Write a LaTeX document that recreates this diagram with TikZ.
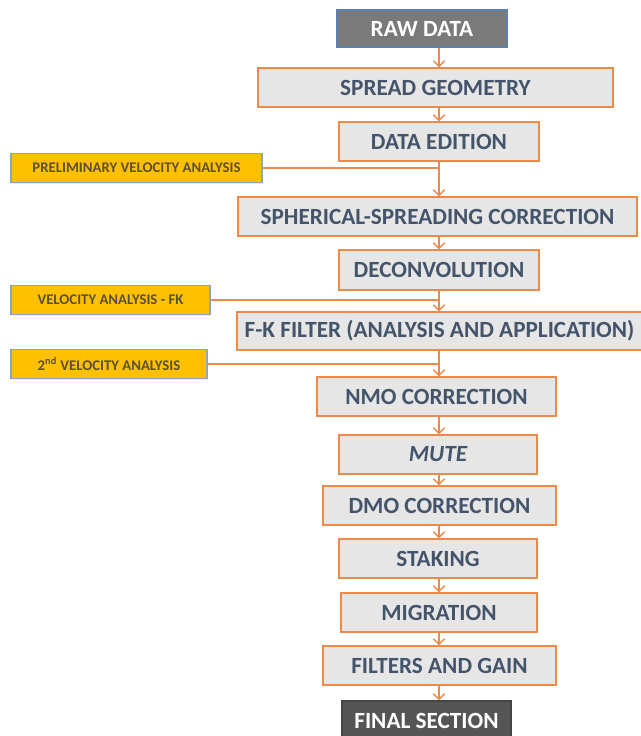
\documentclass[tikz,border=0pt]{standalone}
\usepackage{fontspec}
\setmainfont{Carlito}
\usetikzlibrary{arrows.meta,shadows}

\definecolor{boxfill}{HTML}{E6E6E6}
\definecolor{boxedge}{HTML}{EE8A47}
\definecolor{boxtext}{HTML}{44546A}
\definecolor{velfill}{HTML}{FFC000}
\definecolor{veledge}{HTML}{8EA4BC}
\definecolor{veltext}{HTML}{5A5038}
\definecolor{rawfill}{HTML}{7A7A7A}
\definecolor{rawedge}{HTML}{5B80B4}
\definecolor{finalfill}{HTML}{555555}

\tikzset{
  softshadow/.style={drop shadow={shadow xshift=1pt, shadow yshift=-1pt, opacity=0.18}},
  stepbox/.style={draw=boxedge, line width=1pt, fill=boxfill, text=boxtext, softshadow,
    font=\fontsize{16.5}{18}\selectfont\bfseries, inner sep=0pt},
  startbox/.style={draw=rawedge, line width=1pt, fill=rawfill, text=white, softshadow,
    font=\fontsize{16.5}{18}\selectfont\bfseries, inner sep=0pt},
  endbox/.style={draw=finalfill!80!black, line width=1pt, fill=finalfill, text=white, softshadow,
    font=\fontsize{16.5}{18}\selectfont\bfseries, inner sep=0pt},
  velbox/.style={draw=veledge, line width=1pt, fill=velfill, text=veltext, softshadow,
    font=\fontsize{10.5}{12}\selectfont\bfseries, inner sep=0pt, minimum height=0.725cm},
  flow/.style={draw=boxedge, line width=1pt, -{Straight Barb[length=4pt, width=8pt]}},
  feedline/.style={draw=boxedge, line width=1.3pt}
}

\begin{document}
\begin{tikzpicture}[x=0.025cm, y=-0.025cm]
  \useasboundingbox (0,0) rectangle (640,736);
  % Main column
  \coordinate (spine) at (439,0);
  \node[startbox, minimum width=4.25cm, minimum height=0.925cm] (raw) at (422,28.5) {RAW DATA};
  \node[stepbox, minimum width=8.875cm, minimum height=0.975cm] (spread) at (435.5,87.5) {SPREAD GEOMETRY};
  \node[stepbox, minimum width=5cm, minimum height=0.975cm] (edition) at (439,141.5) {DATA EDITION};
  \node[stepbox, minimum width=9.975cm, minimum height=0.975cm] (spherical) at (437.5,216.5) {SPHERICAL-SPREADING CORRECTION};
  \node[stepbox, minimum width=5cm, minimum height=1cm] (deconv) at (439,270) {DECONVOLUTION};
  \node[stepbox, minimum width=10.125cm, minimum height=0.95cm] (fkfilter) at (439.5,331) {F-K FILTER (ANALYSIS AND APPLICATION)};
  \node[stepbox, minimum width=5.975cm, minimum height=0.975cm] (nmo) at (436.5,396.5) {NMO CORRECTION};
  \node[stepbox, minimum width=4.95cm, minimum height=0.975cm] (mute) at (438,454.5) {\itshape MUTE};
  \node[stepbox, minimum width=5.825cm, minimum height=0.975cm] (dmo) at (439.5,505.5) {DMO CORRECTION};
  \node[stepbox, minimum width=4.95cm, minimum height=0.975cm] (staking) at (438,558.5) {STAKING};
  \node[stepbox, minimum width=4.9cm, minimum height=0.975cm] (migration) at (439,612.5) {MIGRATION};
  \node[stepbox, minimum width=5.825cm, minimum height=0.975cm] (filters) at (439.5,665.5) {FILTERS AND GAIN};
  \node[endbox, minimum width=4.225cm, minimum height=0.975cm] (final) at (426.5,720.5) {FINAL SECTION};
  % Velocity analyses
  \node[velbox, minimum width=6.275cm] (prelim) at (136.5,168) {PRELIMINARY VELOCITY ANALYSIS};
  \node[velbox, minimum width=4.975cm] (velfk) at (110.5,300) {VELOCITY ANALYSIS - FK};
  \node[velbox, minimum width=4.9cm] (secvel) at (109,364) {2\textsuperscript{nd} VELOCITY ANALYSIS};
  % Arrows
  \draw[flow] (raw.south -| spine) -- (spread.north -| spine);
  \draw[flow] (spread.south -| spine) -- (edition.north -| spine);
  \draw[flow] (edition.south -| spine) -- (spherical.north -| spine);
  \draw[flow] (spherical.south -| spine) -- (deconv.north -| spine);
  \draw[flow] (deconv.south -| spine) -- (fkfilter.north -| spine);
  \draw[flow] (fkfilter.south -| spine) -- (nmo.north -| spine);
  \draw[flow] (nmo.south -| spine) -- (mute.north -| spine);
  \draw[flow] (mute.south -| spine) -- (dmo.north -| spine);
  \draw[flow] (dmo.south -| spine) -- (staking.north -| spine);
  \draw[flow] (staking.south -| spine) -- (migration.north -| spine);
  \draw[flow] (migration.south -| spine) -- (filters.north -| spine);
  \draw[flow] (filters.south -| spine) -- (final.north -| spine);
  % Side inputs
  \draw[feedline] (prelim.east) -- (prelim.east -| spine);
  \draw[feedline] (velfk.east) -- (velfk.east -| spine);
  \draw[feedline] (secvel.east) -- (secvel.east -| spine);
\end{tikzpicture}
\end{document}
